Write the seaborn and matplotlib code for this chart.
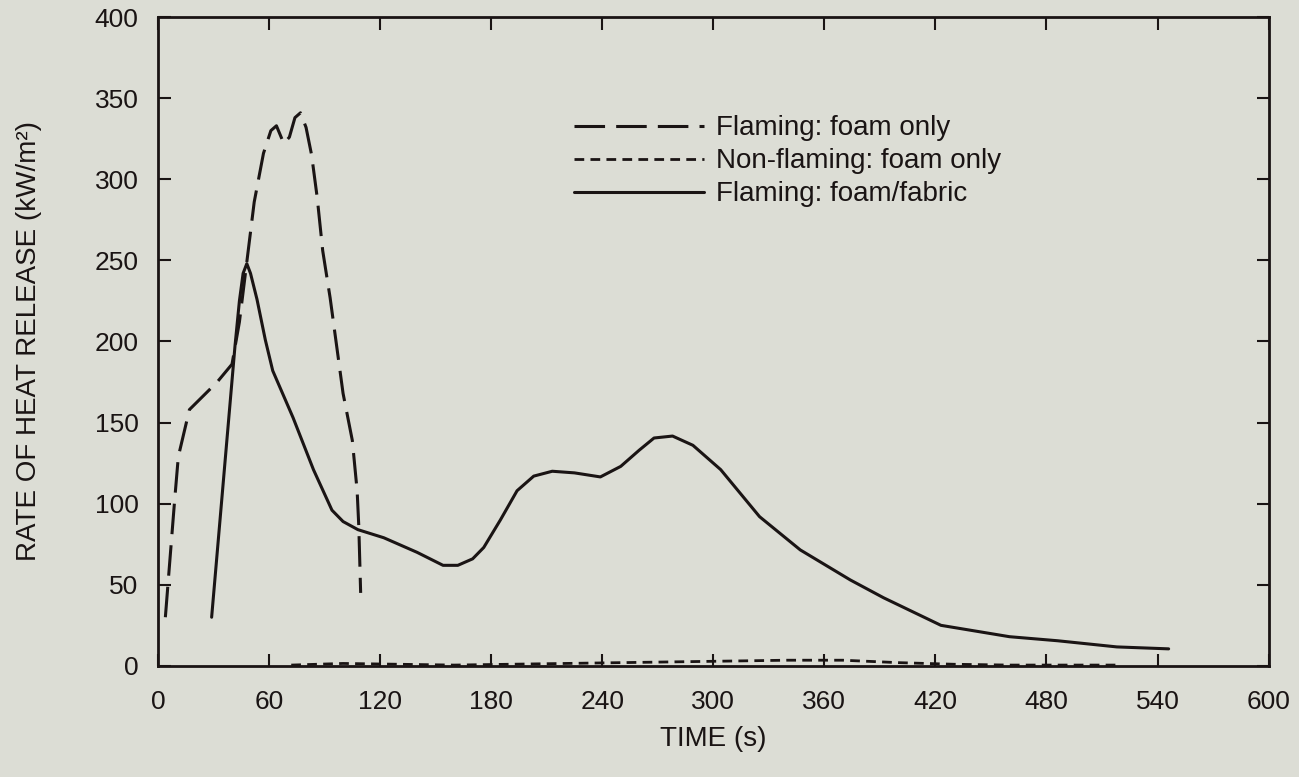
"""
Rate of heat release vs time for foam / foam-fabric specimens.
"""

import matplotlib
matplotlib.use('Agg')
import matplotlib.pyplot as plt
import seaborn as sns
from matplotlib.lines import Line2D

# Flaming: foam only (long dashes)
foam_time = [4, 9, 11, 17, 32, 40, 44, 48, 52, 57, 61, 64, 68, 71, 74, 77,
             80, 83, 86, 89, 93, 100, 105, 107.6, 108.5, 109.5]
foam_hrr = [30, 102, 129, 158, 175, 186, 212, 249, 286, 316, 330, 333, 322,
            326, 338, 341, 332, 315, 289, 256, 227, 168, 139, 108, 86, 45]

# Non-flaming: foam only (short dashes)
nonflam_time = [72, 100, 130, 160, 190, 220, 250, 280, 310, 340, 370, 400,
                430, 460, 490, 520]
nonflam_hrr = [0.5, 1.5, 1, 0.5, 1, 1.5, 2, 2.5, 3, 3.5, 3.5, 2, 1, 0.5, 0.5, 0.5]

# Flaming: foam/fabric (solid)
fabric_time = [29, 41.6, 44, 46, 48, 50, 53.5, 58, 62, 73, 84, 94, 100, 108,
               122, 140, 154, 162, 170, 176, 185, 194, 203, 213, 225, 239,
               250, 260, 268, 278, 289, 304, 325, 347, 374, 392, 423, 460,
               486, 518, 546]
fabric_hrr = [30, 197, 225, 242, 248, 242, 226, 201, 182, 153, 121, 96, 89, 84,
              79, 70, 62, 62, 66, 73, 90, 108, 117, 120, 119, 116.5, 123, 133,
              140.5, 141.7, 136, 121, 92, 71.5, 53, 42, 25, 18, 15.5, 11.7,
              10.5]

labels = ['Flaming: foam only', 'Non-flaming: foam only', 'Flaming: foam/fabric']

bg = '#dcddd5'
ink = '#1a1414'
sns.set_style('ticks')
plt.rcParams['font.family'] = ['Liberation Sans', 'DejaVu Sans']
plt.rcParams['lines.scale_dashes'] = False

long_dash = (0, (22, 8))
short_dash = (0, (7, 4.5))

fig = plt.figure(figsize=(12.99, 7.77), dpi=100, facecolor=bg)
ax = fig.add_axes([0.1216, 0.143, 0.855, 0.835], facecolor=bg)

sns.lineplot(x=foam_time, y=foam_hrr, ax=ax, color=ink, lw=2.2,
             linestyle=long_dash)
sns.lineplot(x=nonflam_time, y=nonflam_hrr, ax=ax, color=ink, lw=2.0,
             linestyle=short_dash)
sns.lineplot(x=fabric_time, y=fabric_hrr, ax=ax, color=ink, lw=2.2)

ax.set_xlim(0, 600)
ax.set_ylim(0, 400)
ax.set_xticks(range(0, 601, 60))
ax.set_yticks(range(0, 401, 50))
ax.tick_params(direction='in', length=9, width=1.5, labelsize=19,
               top=True, right=True, colors=ink)
ax.tick_params(axis='x', pad=17)
ax.tick_params(axis='y', pad=14)
for side in ax.spines.values():
    side.set_linewidth(2)
    side.set_color(ink)

ax.set_xlabel('TIME (s)', fontsize=20, labelpad=9, color=ink)
ax.set_ylabel('RATE OF HEAT RELEASE (kW/m²)', fontsize=20, labelpad=38,
              color=ink)

handles = [
    Line2D([], [], color=ink, lw=2.2, linestyle=long_dash),
    Line2D([], [], color=ink, lw=2.0, linestyle=short_dash),
    Line2D([], [], color=ink, lw=2.2),
]
ax.legend(handles, labels, frameon=False, fontsize=20, handlelength=4.7,
          handletextpad=0.4, labelspacing=0.25, loc='upper left',
          bbox_to_anchor=(0.352, 0.887), labelcolor=ink)

fig.savefig('out.png', dpi=100, facecolor=bg)
